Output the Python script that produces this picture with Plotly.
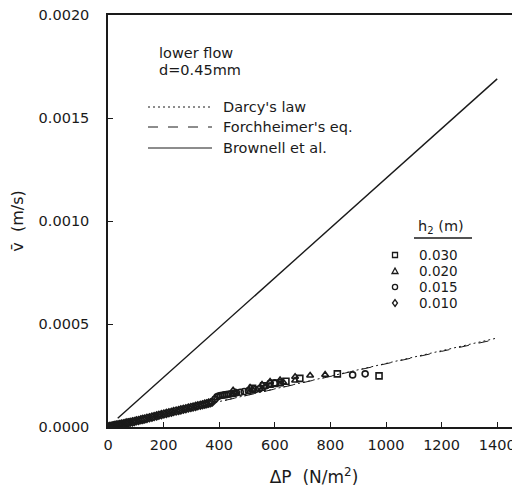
import plotly.graph_objects as go

# ---- data ----
dp_030 = [520, 560, 600, 640, 690, 825, 975]
v_030 = [0.000188, 0.000200, 0.000212, 0.000222, 0.000236, 0.000258, 0.000248]

dp_020 = [450, 450, 460, 511, 511, 520, 554, 554, 565, 583, 583, 619, 619, 630,
          673, 673, 727, 781]
v_020 = [0.000158, 0.000178, 0.000168, 0.000172, 0.000192, 0.000182, 0.000186,
         0.000206, 0.000196, 0.000200, 0.000220, 0.000208, 0.000228, 0.000218,
         0.000226, 0.000244, 0.000250, 0.000254]

dp_015 = [385, 392, 398, 405, 412, 419, 426, 433, 440, 452, 462, 476, 490, 505,
          530, 545, 583, 600, 619, 880, 925]
v_015 = [0.000136, 0.000146, 0.000150, 0.000153, 0.000154, 0.000156, 0.000157,
         0.000159, 0.000160, 0.000163, 0.000166, 0.000169, 0.000172, 0.000176,
         0.000182, 0.000186, 0.000212, 0.000214, 0.000216, 0.000253, 0.000258]

dp_010 = [3, 7, 12, 16, 20, 25, 30, 36, 42, 48, 55, 62, 68, 74, 80, 88, 95, 102,
          110, 118, 125, 132, 140, 149, 158, 166, 175, 183, 192, 201, 210, 219,
          228, 236, 245, 254, 262, 271, 280, 289, 298, 306, 315, 323, 332, 340,
          348, 355, 362, 369, 375]
v_010 = [0.000001, 0.000003, 0.000004, 0.000005, 0.000006, 0.000008, 0.000009,
         0.000011, 0.000012, 0.000014, 0.000016, 0.000018, 0.000020, 0.000021,
         0.000023, 0.000025, 0.000027, 0.000030, 0.000032, 0.000035, 0.000037,
         0.000039, 0.000042, 0.000045, 0.000048, 0.000051, 0.000054, 0.000057,
         0.000060, 0.000063, 0.000066, 0.000069, 0.000072, 0.000075, 0.000078,
         0.000080, 0.000083, 0.000086, 0.000089, 0.000092, 0.000095, 0.000097,
         0.000100, 0.000103, 0.000106, 0.000108, 0.000111, 0.000113, 0.000116,
         0.000118, 0.000121]

darcy_dp = [0, 1400]
darcy_v = [0.0, 0.000432]

forch_dp = [0, 200, 400, 600, 800, 1000, 1200, 1400]
forch_v = [0.0, 0.0000620, 0.0001238, 0.0001852, 0.0002463, 0.000307, 0.0003672, 0.000427]

brownell_dp = [35, 1400]
brownell_v = [0.000042, 0.00169]

x_ticks = [0, 200, 400, 600, 800, 1000, 1200, 1400]
y_ticks = [0.0, 0.0005, 0.0010, 0.0015, 0.0020]
y_tick_labels = ["0.0000", "0.0005", "0.0010", "0.0015", "0.0020"]

line_legend = ["Darcy's law", "Forchheimer's eq.", "Brownell et al."]
h2_labels = ["0.030", "0.020", "0.015", "0.010"]

FONT = "DejaVu Sans"
BLACK = "#1a1a1a"

fig = go.Figure()

fig.add_trace(go.Scatter(x=darcy_dp, y=darcy_v, mode="lines", name=line_legend[0],
                         line=dict(color=BLACK, width=1, dash="2px,3px"), showlegend=False))
fig.add_trace(go.Scatter(x=forch_dp, y=forch_v, mode="lines", name=line_legend[1],
                         line=dict(color=BLACK, width=1, dash="10px,10px"), showlegend=False))
fig.add_trace(go.Scatter(x=brownell_dp, y=brownell_v, mode="lines", name=line_legend[2],
                         line=dict(color=BLACK, width=1.4), showlegend=False))

symbols = ["square-open", "triangle-up-open", "circle-open", "diamond-open"]
series = [(dp_030, v_030), (dp_020, v_020), (dp_015, v_015), (dp_010, v_010)]
for (xs, ys), sym, lab in zip(series, symbols, h2_labels):
    fig.add_trace(go.Scatter(x=xs, y=ys, mode="markers", name=lab, showlegend=False,
                             marker=dict(symbol=sym, size=6, color=BLACK,
                                         line=dict(color=BLACK, width=1.6))))

# ---- layout geometry (figure pixels; page adds an 8px body margin) ----
OFF = 8
W, H = 520 - OFF, 488 - OFF
L, T, R = 108 - OFF, 15 - OFF, 0
PW, PH = W - L - R, 412
B = H - T - PH


def px(xp):
    return (xp - OFF - L) / PW


def py(yp):
    return (T + PH - (yp - OFF)) / PH


shapes = []
annotations = []

# text block
annotations.append(dict(x=px(157), y=py(53), xref="paper", yref="paper", text="lower flow",
                        showarrow=False, xanchor="left", yanchor="middle",
                        font=dict(family=FONT, size=14.5, color=BLACK)))
annotations.append(dict(x=px(157), y=py(70), xref="paper", yref="paper", text="d=0.45mm",
                        showarrow=False, xanchor="left", yanchor="middle",
                        font=dict(family=FONT, size=14.5, color=BLACK)))

# line legend
leg_rows = [107, 127, 148]
leg_dash = ["2px,3px", "10px,10px", "solid"]
for lab, yrow, dsh in zip(line_legend, leg_rows, leg_dash):
    shapes.append(dict(type="line", xref="paper", yref="paper", x0=px(148), x1=px(212),
                       y0=py(yrow), y1=py(yrow), line=dict(color=BLACK, width=1, dash=dsh)))
    annotations.append(dict(x=px(221), y=py(yrow), xref="paper", yref="paper", text=lab,
                            showarrow=False, xanchor="left", yanchor="middle",
                            font=dict(family=FONT, size=14.5, color=BLACK)))

# marker legend
annotations.append(dict(x=px(416), y=py(227), xref="paper", yref="paper",
                        text="h<sub>2</sub> (m)", showarrow=False, xanchor="left",
                        yanchor="middle", font=dict(family=FONT, size=14.5, color=BLACK)))
shapes.append(dict(type="line", xref="paper", yref="paper", x0=px(414), x1=px(472),
                   y0=py(238), y1=py(238), line=dict(color=BLACK, width=1.3)))

mk_rows = [255, 271, 287, 303]
mx = px(395)
mk_paths = [
    "M-2.5,-2.5 L2.5,-2.5 L2.5,2.5 L-2.5,2.5 Z",
    "M0,3 L3,-2.5 L-3,-2.5 Z",
    None,
    "M0,-3.5 L2.5,0 L0,3.5 L-2.5,0 Z",
]
for lab, yrow, pth in zip(h2_labels, mk_rows, mk_paths):
    if pth is None:
        shapes.append(dict(type="circle", xref="paper", yref="paper", xsizemode="pixel",
                           ysizemode="pixel", xanchor=mx, yanchor=py(yrow),
                           x0=-2.6, x1=2.6, y0=-2.6, y1=2.6,
                           line=dict(color=BLACK, width=1.3)))
    else:
        shapes.append(dict(type="path", xref="paper", yref="paper", xsizemode="pixel",
                           ysizemode="pixel", xanchor=mx, yanchor=py(yrow), path=pth,
                           line=dict(color=BLACK, width=1.3)))
    annotations.append(dict(x=px(417), y=py(yrow), xref="paper", yref="paper", text=lab,
                            showarrow=False, xanchor="left", yanchor="middle",
                            font=dict(family=FONT, size=13.5, color=BLACK)))

fig.update_layout(
    width=W, height=H,
    margin=dict(l=L, r=R, t=T, b=B, autoexpand=False),
    paper_bgcolor="white", plot_bgcolor="white",
    showlegend=False,
    shapes=shapes, annotations=annotations,
    font=dict(family=FONT, color=BLACK),
)

fig.update_xaxes(
    range=[0, 1482], tickvals=x_ticks, ticks="inside", ticklen=5, tickwidth=1.2,
    tickcolor=BLACK, showline=True, linecolor=BLACK, linewidth=1.5, mirror=True,
    showgrid=False, zeroline=False, tickfont=dict(family=FONT, size=14.5, color=BLACK),
    title=dict(text="ΔP  (N/m<sup>2</sup>)", font=dict(family=FONT, size=17, color=BLACK),
               standoff=19),
    ticklabelstandoff=4, ticklabeloverflow="allow",
)
fig.update_yaxes(
    range=[0, 0.0020], tickvals=y_ticks, ticktext=y_tick_labels, ticks="inside",
    ticklen=5, tickwidth=1.2, tickcolor=BLACK, showline=True, linecolor=BLACK,
    linewidth=1.5, mirror=False, showgrid=False, zeroline=False,
    tickfont=dict(family=FONT, size=14.5, color=BLACK),
    title=dict(text="v\u0304  (m/s)", font=dict(family=FONT, size=16, color=BLACK),
               standoff=19),
    ticklabelstandoff=14, ticklabeloverflow="allow",
)

fig.write_html("out.html")
